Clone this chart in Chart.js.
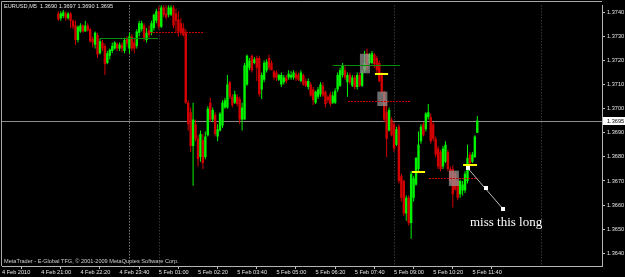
<!DOCTYPE html>
<html>
<head>
<meta charset="utf-8">
<title>EURUSD M5</title>
<script src="https://cdn.jsdelivr.net/npm/chart.js@4.4.1/dist/chart.umd.min.js"></script>
<style>
  html, body { margin: 0; padding: 0; background: #000; }
  canvas { display: block; }
</style>
</head>
<body>
<canvas id="priceChart" width="625" height="277"></canvas>
<script>
// EURUSD M5 candles. Bars before index 23 sit above the visible price range.
const firstBar = 23;

const opens = [
  1.37395, 1.37375, 1.37385, 1.37395, 1.37375, 1.37395, 1.37365, 1.37345, 1.37285, 1.37320,
  1.37345, 1.37320, 1.37345, 1.37330, 1.37290, 1.37265, 1.37305, 1.37230, 1.37275, 1.37260,
  1.37190, 1.37220, 1.37240, 1.37250, 1.37270, 1.37250, 1.37265, 1.37240, 1.37290, 1.37250,
  1.37300, 1.37275, 1.37260, 1.37315, 1.37330, 1.37345, 1.37285, 1.37325, 1.37315, 1.37335,
  1.37365, 1.37405, 1.37340, 1.37420, 1.37395, 1.37390, 1.37390, 1.37420, 1.37395, 1.37370,
  1.37355, 1.37335, 1.37315, 1.37025, 1.36985, 1.36845, 1.36935, 1.36875, 1.36800, 1.36870,
  1.36800, 1.36890, 1.37025, 1.36955, 1.36975, 1.36885, 1.36910, 1.36930, 1.37005, 1.37005,
  1.37110, 1.37050, 1.37025, 1.37050, 1.37040, 1.36955, 1.36955, 1.37100, 1.37170, 1.37220,
  1.37190, 1.37210, 1.37210, 1.37080, 1.37120, 1.37160, 1.37210, 1.37190, 1.37155, 1.37150,
  1.37120, 1.37100, 1.37110, 1.37130, 1.37130, 1.37130, 1.37130, 1.37145, 1.37140, 1.37115,
  1.37140, 1.37115, 1.37090, 1.37100, 1.37080, 1.37025, 1.37050, 1.37060, 1.37095, 1.37070,
  1.37050, 1.37060, 1.37025, 1.37025, 1.37080, 1.37095, 1.37140, 1.37160, 1.37110, 1.37140,
  1.37095, 1.37130, 1.37090, 1.37140, 1.37095, 1.37160, 1.37230, 1.37190, 1.37190, 1.37225,
  1.37210, 1.37190, 1.37140, 1.37070, 1.36985, 1.36910, 1.36955, 1.36935, 1.36850, 1.36925,
  1.36720, 1.36700, 1.36565, 1.36630, 1.36525, 1.36630, 1.36685, 1.36750, 1.36865, 1.36935,
  1.36915, 1.36965, 1.36965, 1.36935, 1.36875, 1.36835, 1.36820, 1.36760, 1.36780, 1.36820,
  1.36750, 1.36750, 1.36730, 1.36700, 1.36645, 1.36660, 1.36660, 1.36700, 1.36810, 1.36780,
  1.36800, 1.36900
];

const highs = [
  1.37405, 1.37405, 1.37410, 1.37405, 1.37400, 1.37400, 1.37370, 1.37365, 1.37345, 1.37355,
  1.37350, 1.37365, 1.37355, 1.37335, 1.37300, 1.37320, 1.37315, 1.37290, 1.37285, 1.37270,
  1.37240, 1.37250, 1.37275, 1.37280, 1.37275, 1.37275, 1.37275, 1.37295, 1.37300, 1.37315,
  1.37310, 1.37295, 1.37330, 1.37365, 1.37365, 1.37355, 1.37335, 1.37345, 1.37365, 1.37395,
  1.37415, 1.37425, 1.37435, 1.37445, 1.37430, 1.37450, 1.37445, 1.37435, 1.37415, 1.37405,
  1.37375, 1.37355, 1.37330, 1.37035, 1.37005, 1.37025, 1.36955, 1.36890, 1.36910, 1.36895,
  1.36905, 1.37010, 1.37045, 1.37005, 1.36985, 1.36935, 1.36985, 1.37035, 1.37045, 1.37140,
  1.37115, 1.37060, 1.37075, 1.37060, 1.37050, 1.37025, 1.37190, 1.37225, 1.37210, 1.37225,
  1.37215, 1.37220, 1.37220, 1.37150, 1.37200, 1.37205, 1.37225, 1.37200, 1.37160, 1.37160,
  1.37145, 1.37150, 1.37140, 1.37140, 1.37160, 1.37155, 1.37160, 1.37155, 1.37150, 1.37160,
  1.37145, 1.37125, 1.37125, 1.37110, 1.37090, 1.37075, 1.37090, 1.37110, 1.37110, 1.37075,
  1.37055, 1.37070, 1.37070, 1.37085, 1.37150, 1.37170, 1.37190, 1.37175, 1.37150, 1.37150,
  1.37140, 1.37140, 1.37150, 1.37150, 1.37160, 1.37240, 1.37250, 1.37230, 1.37240, 1.37230,
  1.37220, 1.37200, 1.37150, 1.37075, 1.37035, 1.37005, 1.36965, 1.36945, 1.36925, 1.36935,
  1.36730, 1.36705, 1.36640, 1.36640, 1.36740, 1.36720, 1.36800, 1.36905, 1.36935, 1.36945,
  1.36985, 1.37020, 1.36980, 1.36945, 1.36885, 1.36845, 1.36830, 1.36845, 1.36865, 1.36830,
  1.36760, 1.36765, 1.36740, 1.36705, 1.36705, 1.36700, 1.36740, 1.36850, 1.36820, 1.36820,
  1.36890, 1.36970
];

const lows = [
  1.37365, 1.37365, 1.37375, 1.37365, 1.37370, 1.37335, 1.37330, 1.37265, 1.37275, 1.37315,
  1.37315, 1.37320, 1.37320, 1.37275, 1.37255, 1.37250, 1.37210, 1.37225, 1.37240, 1.37140,
  1.37185, 1.37205, 1.37230, 1.37245, 1.37240, 1.37240, 1.37235, 1.37230, 1.37255, 1.37230,
  1.37240, 1.37230, 1.37250, 1.37300, 1.37320, 1.37280, 1.37275, 1.37295, 1.37305, 1.37325,
  1.37355, 1.37330, 1.37335, 1.37380, 1.37370, 1.37380, 1.37385, 1.37335, 1.37315, 1.37300,
  1.37305, 1.37300, 1.37020, 1.36910, 1.36820, 1.36680, 1.36865, 1.36760, 1.36780, 1.36750,
  1.36790, 1.36885, 1.36945, 1.36945, 1.36885, 1.36865, 1.36905, 1.36920, 1.37000, 1.37000,
  1.37040, 1.37005, 1.37020, 1.37010, 1.36935, 1.36910, 1.36955, 1.37095, 1.37160, 1.37150,
  1.37185, 1.37115, 1.37050, 1.37040, 1.37110, 1.37150, 1.37160, 1.37160, 1.37120, 1.37115,
  1.37115, 1.37090, 1.37100, 1.37105, 1.37120, 1.37120, 1.37120, 1.37115, 1.37115, 1.37110,
  1.37095, 1.37090, 1.37080, 1.37050, 1.37015, 1.37020, 1.37040, 1.37050, 1.37050, 1.37005,
  1.37025, 1.37010, 1.37020, 1.37020, 1.37070, 1.37090, 1.37130, 1.37120, 1.37050, 1.37100,
  1.37090, 1.37080, 1.37080, 1.37090, 1.37090, 1.37150, 1.37160, 1.37185, 1.37185, 1.37170,
  1.37140, 1.37110, 1.37060, 1.36945, 1.36800, 1.36905, 1.36885, 1.36820, 1.36845, 1.36690,
  1.36615, 1.36555, 1.36535, 1.36515, 1.36460, 1.36615, 1.36680, 1.36740, 1.36855, 1.36885,
  1.36905, 1.36955, 1.36855, 1.36865, 1.36800, 1.36750, 1.36740, 1.36750, 1.36775, 1.36740,
  1.36690, 1.36590, 1.36660, 1.36620, 1.36630, 1.36640, 1.36650, 1.36690, 1.36760, 1.36775,
  1.36795, 1.36900
];

const closes = [
  1.37370, 1.37395, 1.37400, 1.37375, 1.37395, 1.37365, 1.37340, 1.37285, 1.37340, 1.37345,
  1.37320, 1.37345, 1.37325, 1.37280, 1.37275, 1.37315, 1.37225, 1.37280, 1.37250, 1.37185,
  1.37230, 1.37245, 1.37260, 1.37275, 1.37250, 1.37265, 1.37250, 1.37285, 1.37270, 1.37300,
  1.37250, 1.37250, 1.37320, 1.37355, 1.37355, 1.37295, 1.37315, 1.37305, 1.37355, 1.37390,
  1.37405, 1.37340, 1.37420, 1.37390, 1.37380, 1.37420, 1.37420, 1.37345, 1.37365, 1.37320,
  1.37315, 1.37305, 1.37025, 1.36935, 1.36845, 1.36955, 1.36875, 1.36790, 1.36895, 1.36775,
  1.36885, 1.37000, 1.36955, 1.36995, 1.36895, 1.36915, 1.36980, 1.37025, 1.37035, 1.37100,
  1.37050, 1.37015, 1.37060, 1.37020, 1.36955, 1.37005, 1.37180, 1.37220, 1.37200, 1.37160,
  1.37205, 1.37170, 1.37060, 1.37140, 1.37190, 1.37195, 1.37170, 1.37160, 1.37130, 1.37130,
  1.37140, 1.37140, 1.37130, 1.37115, 1.37145, 1.37140, 1.37150, 1.37125, 1.37120, 1.37150,
  1.37100, 1.37095, 1.37115, 1.37055, 1.37035, 1.37070, 1.37080, 1.37100, 1.37055, 1.37020,
  1.37035, 1.37020, 1.37055, 1.37075, 1.37140, 1.37160, 1.37180, 1.37130, 1.37140, 1.37110,
  1.37130, 1.37090, 1.37140, 1.37095, 1.37150, 1.37190, 1.37170, 1.37225, 1.37230, 1.37185,
  1.37160, 1.37115, 1.37070, 1.36955, 1.36875, 1.36995, 1.36890, 1.36835, 1.36915, 1.36700,
  1.36630, 1.36565, 1.36630, 1.36525, 1.36730, 1.36710, 1.36795, 1.36850, 1.36925, 1.36890,
  1.36980, 1.36985, 1.36865, 1.36875, 1.36810, 1.36760, 1.36750, 1.36835, 1.36850, 1.36750,
  1.36700, 1.36645, 1.36665, 1.36630, 1.36700, 1.36685, 1.36730, 1.36795, 1.36775, 1.36810,
  1.36885, 1.36950
];

// time axis: one label every 16 bars (80 minutes)
const xTickLabels = [
  "4 Feb 2010", "4 Feb 21:00", "4 Feb 22:20", "4 Feb 23:40", "5 Feb 01:00",
  "5 Feb 02:20", "5 Feb 03:40", "5 Feb 05:00", "5 Feb 06:20", "5 Feb 07:40",
  "5 Feb 09:00", "5 Feb 10:20", "5 Feb 11:40"
];
const barsPerLabel = 16;
const yTicks = [1.3640, 1.3650, 1.3660, 1.3670, 1.3680, 1.3690, 1.3700, 1.3710, 1.3720, 1.3730, 1.3740];

const bidPrice = 1.3695;
const chartTitle = "EURUSD,M5  1.3690 1.3697 1.3690 1.3695";
const footerText = "MetaTrader - E-Global TFG, \u00a9 2001-2009 MetaQuotes Software Corp.";

// user objects on the chart (bar index / price)
const periodLines = [
  { bar: 52, color: '#b4b4b4' },
  { bar: 64, color: '#4a525c' },
  { bar: 160, color: '#4a525c' },
  { bar: 220, color: '#4a525c' }
];
const levelLines = [
  { from: 40, to: 63.7, price: 1.37293, color: '#0a8c0a', dash: [] },
  { from: 60.4, to: 82, price: 1.37318, color: '#c80000', dash: [2, 1] },
  { from: 135, to: 162.4, price: 1.37183, color: '#0a8c0a', dash: [] },
  { from: 141.2, to: 166.5, price: 1.37030, color: '#c80000', dash: [2, 1] },
  { from: 174.3, to: 194, price: 1.36711, color: '#c80000', dash: [2, 1] }
];
const entryMarks = [
  { from: 152.2, to: 157.6, price: 1.37142 },
  { from: 167.3, to: 172.7, price: 1.36736 },
  { from: 188.2, to: 193.9, price: 1.36766 }
];
const boxes = [
  { from: 146.1, to: 150.2, top: 1.37228, bottom: 1.37147 },
  { from: 153.2, to: 157.3, top: 1.37071, bottom: 1.37011 },
  { from: 182.4, to: 186.5, top: 1.36743, bottom: 1.36679 }
];
const arrowPoints = [[190.2, 1.36752], [197.6, 1.36670], [204.5, 1.36584]];
const note = { text: "miss this long", bar: 191, price: 1.36511 };

const bullColor = '#00f400';
const bearColor = '#d40000';
const smallFont = '5.6px "Liberation Sans"';

const barIndex = opens.map((o, k) => firstBar + k);
const candleColors = opens.map((o, k) => (closes[k] >= o ? bullColor : bearColor));
const bodyData = barIndex.map((b, k) => ({ x: b, y: [opens[k], closes[k]] }));
const wickData = barIndex.map((b, k) => ({ x: b, y: [lows[k], highs[k]] }));

const mtObjects = {
  id: 'mtObjects',
  beforeDatasetsDraw(chart) {
    const { ctx, chartArea: a, scales: { x, y } } = chart;
    ctx.save();
    // frame top / left
    ctx.strokeStyle = '#a8a8a8';
    ctx.lineWidth = 1;
    ctx.beginPath();
    ctx.moveTo(1.5, a.bottom);
    ctx.lineTo(1.5, 1.5);
    ctx.lineTo(a.right, 1.5);
    ctx.stroke();

    // period separators
    ctx.setLineDash([1, 2]);
    periodLines.forEach(l => {
      const px = Math.round(x.getPixelForValue(l.bar)) + 0.5;
      ctx.strokeStyle = l.color;
      ctx.beginPath();
      ctx.moveTo(px, a.top);
      ctx.lineTo(px, a.bottom);
      ctx.stroke();
    });
    ctx.setLineDash([]);

    // bid line
    const by = Math.round(y.getPixelForValue(bidPrice)) + 0.5;
    ctx.strokeStyle = '#8c8c8c';
    ctx.beginPath();
    ctx.moveTo(a.left, by);
    ctx.lineTo(a.right, by);
    ctx.stroke();
    ctx.restore();
  },
  afterDatasetsDraw(chart) {
    const { ctx, chartArea: a, scales: { x, y } } = chart;
    ctx.save();
    ctx.beginPath();
    ctx.rect(a.left, a.top, a.right - a.left, a.bottom - a.top);
    ctx.clip();

    boxes.forEach(b => {
      const x0 = x.getPixelForValue(b.from), x1 = x.getPixelForValue(b.to);
      const y0 = y.getPixelForValue(b.top), y1 = y.getPixelForValue(b.bottom);
      ctx.fillStyle = 'rgba(150,150,150,0.72)';
      ctx.fillRect(x0, y0, x1 - x0, y1 - y0);
    });

    levelLines.forEach(l => {
      const py = Math.round(y.getPixelForValue(l.price)) + 0.5;
      ctx.strokeStyle = l.color;
      ctx.lineWidth = 1;
      ctx.setLineDash(l.dash);
      ctx.beginPath();
      ctx.moveTo(x.getPixelForValue(l.from), py);
      ctx.lineTo(x.getPixelForValue(l.to), py);
      ctx.stroke();
    });
    ctx.setLineDash([]);

    ctx.strokeStyle = '#ffff00';
    ctx.lineWidth = 2;
    entryMarks.forEach(m => {
      const py = Math.round(y.getPixelForValue(m.price));
      ctx.beginPath();
      ctx.moveTo(x.getPixelForValue(m.from), py);
      ctx.lineTo(x.getPixelForValue(m.to), py);
      ctx.stroke();
    });

    // arrow to the note
    const pts = arrowPoints.map(p => [x.getPixelForValue(p[0]), y.getPixelForValue(p[1])]);
    ctx.strokeStyle = '#bcbcbc';
    ctx.lineWidth = 1;
    ctx.beginPath();
    ctx.moveTo(pts[0][0], pts[0][1]);
    ctx.lineTo(pts[pts.length - 1][0], pts[pts.length - 1][1]);
    ctx.stroke();
    ctx.fillStyle = '#ffffff';
    pts.forEach(p => ctx.fillRect(Math.round(p[0]) - 2, Math.round(p[1]) - 2, 4, 4));

    ctx.font = '13px "Liberation Serif"';
    ctx.textBaseline = 'alphabetic';
    ctx.fillStyle = '#ffffff';
    ctx.fillText(note.text, x.getPixelForValue(note.bar), y.getPixelForValue(note.price));
    ctx.restore();
  },
  afterDraw(chart) {
    const { ctx, chartArea: a, scales: { y } } = chart;
    ctx.save();
    ctx.font = smallFont;
    ctx.textBaseline = 'middle';
    ctx.fillStyle = '#e6e6e6';
    ctx.fillText(chartTitle, 4, 6.5);
    ctx.fillStyle = '#d0d0d0';
    ctx.fillText(footerText, 4, 261);

    // bid price box on the axis
    const by = Math.round(y.getPixelForValue(bidPrice));
    ctx.fillStyle = '#ffffff';
    ctx.fillRect(a.right + 1, by - 4, 22, 8);
    ctx.fillStyle = '#000000';
    ctx.fillText(bidPrice.toFixed(4), a.right + 5, by + 0.5);
    ctx.restore();
  }
};

new Chart(document.getElementById('priceChart'), {
  type: 'bar',
  data: {
    datasets: [
      {
        label: 'body',
        data: bodyData,
        backgroundColor: candleColors,
        barThickness: 2.4,
        minBarLength: 1,
        grouped: false,
        inflateAmount: 0,
        borderWidth: 0,
        clip: 0
      },
      {
        label: 'wick',
        data: wickData,
        backgroundColor: candleColors,
        barThickness: 1,
        grouped: false,
        inflateAmount: 0,
        borderWidth: 0,
        clip: 0
      }
    ]
  },
  options: {
    responsive: false,
    devicePixelRatio: 1,
    animation: false,
    events: [],
    layout: { padding: { left: 2, top: 2, right: 0, bottom: 0 } },
    plugins: {
      legend: { display: false },
      tooltip: { enabled: false }
    },
    scales: {
      x: {
        type: 'linear',
        min: 0,
        max: 244.9,
        offset: false,
        grid: { drawOnChartArea: false, drawTicks: true, tickLength: 3, color: '#c0c0c0' },
        border: { display: true, color: '#b4b4b4' },
        ticks: {
          autoSkip: false,
          maxRotation: 0,
          minRotation: 0,
          align: 'start',
          padding: 0,
          color: '#e6e6e6',
          font: { family: 'Liberation Sans', size: 5.6 },
          callback: (v, idx) => xTickLabels[idx]
        },
        afterBuildTicks: s => { s.ticks = xTickLabels.map((t, k) => ({ value: k * barsPerLabel })); },
        afterFit: s => { s.height = 11; }
      },
      y: {
        type: 'linear',
        position: 'right',
        min: 1.36347,
        max: 1.37429,
        grid: { drawOnChartArea: false, drawTicks: true, tickLength: 3, color: '#c0c0c0' },
        border: { display: true, color: '#b4b4b4' },
        ticks: {
          padding: 2,
          color: '#e6e6e6',
          font: { family: 'Liberation Sans', size: 5.6 },
          callback: v => v.toFixed(4)
        },
        afterBuildTicks: s => { s.ticks = yTicks.map(v => ({ value: v })); },
        afterFit: s => { s.width = 23; }
      }
    }
  },
  plugins: [mtObjects]
});
</script>
</body>
</html>
